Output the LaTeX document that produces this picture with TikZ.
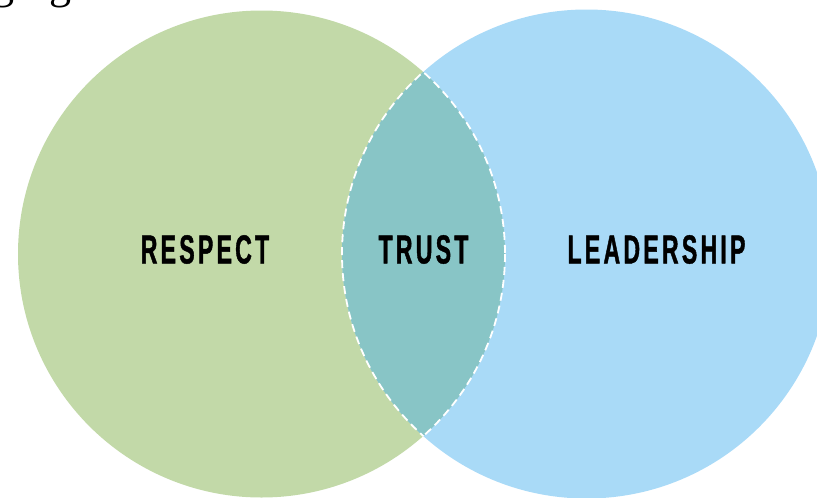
\documentclass[tikz,border=0pt]{standalone}
\usepackage{fontspec}
\usepackage{xcolor}
\setmainfont{Liberation Serif}
\newfontfamily\vennfont[FakeStretch=0.57,LetterSpace=8,FakeBold=1]{Liberation Sans}

\definecolor{respectgreen}{RGB}{194,217,168}
\definecolor{leaderblue}{RGB}{169,218,247}
\definecolor{trustteal}{RGB}{136,197,198}

\tikzset{
  vennword/.style={font=\vennfont\bfseries\fontsize{40.5}{42}\selectfont, text=black, inner sep=0pt},
  cutword/.style={font=\fontsize{44}{46}\selectfont, anchor=base, inner sep=0pt},
  lensedge/.style={white, line width=1.8pt, dash pattern=on 8pt off 5pt}
}

\begin{document}
\begin{tikzpicture}[x=1pt, y=-1pt]
    \useasboundingbox (0,0) rectangle (817,498);
    \clip (0,0) rectangle (817,498);

    % Text above, cut off
    \node[cutword] (cutA) at (4,-1.5) {g};
    \node[cutword] (cutB) at (60,-1.5) {g};

    % Circles
    \def\leftcircle{(261.5,254) circle (243.5)}
    \def\rightcircle{(586.5,254) circle (244.5)}
    \fill[respectgreen] \leftcircle;
    \fill[leaderblue] \rightcircle;

    % Overlap
    \begin{scope}
        \clip \leftcircle;
        \fill[trustteal] \rightcircle;
        \draw[lensedge] \rightcircle;
    \end{scope}
    \begin{scope}
        \clip \rightcircle;
        \draw[lensedge] \leftcircle;
    \end{scope}

    % Labels
    \node[vennword] (respect) at (205,249.5) {RESPECT};
    \node[vennword] (trust) at (423.5,249.5) {TRUST};
    \node[vennword] (leadership) at (656.5,249.5) {LEADERSHIP};
\end{tikzpicture}
\end{document}
